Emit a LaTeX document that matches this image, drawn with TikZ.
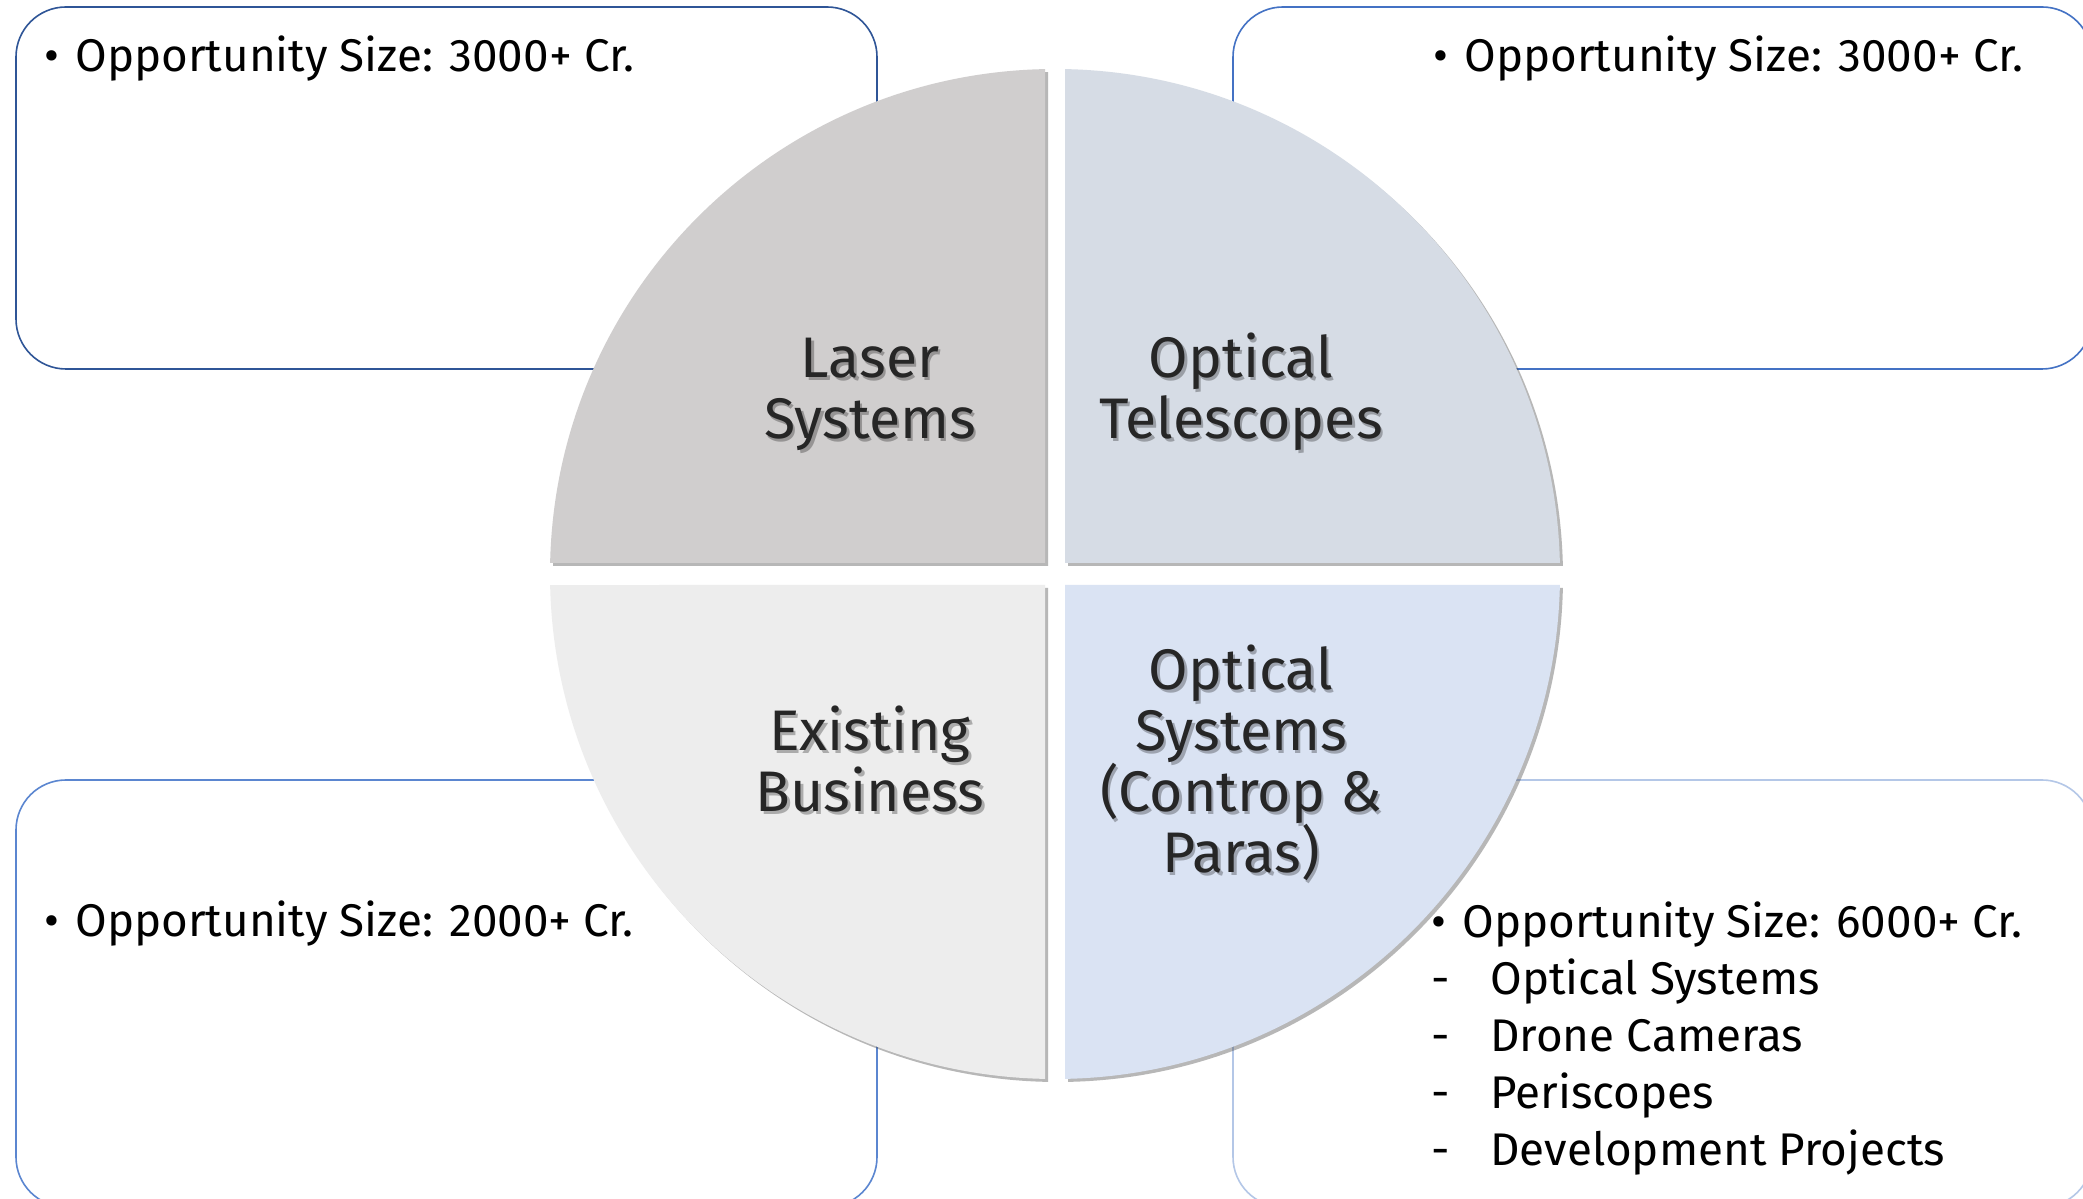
\documentclass[tikz,border=0pt]{standalone}
\usepackage{fontspec}
\setmainfont{Fira Sans}
\usetikzlibrary{shadows}
\definecolor{qTL}{HTML}{D0CECE}
\definecolor{qTR}{HTML}{D6DCE5}
\definecolor{qBL}{HTML}{EDEDED}
\definecolor{qBR}{HTML}{DAE3F3}
\definecolor{bTL}{HTML}{2F5597}
\definecolor{bTR}{HTML}{4472C4}
\definecolor{bBL}{HTML}{5B86D0}
\definecolor{bBR}{HTML}{B4C7E7}
\definecolor{labtxt}{HTML}{262626}
\tikzset{
  infobox/.style={rounded corners=25pt, line width=0.8pt},
  piece/.style={drop shadow={shadow xshift=1.5pt, shadow yshift=-1.5pt, opacity=0.4, fill=black!70}},
  bigtxt/.style={font=\fontsize{28.6}{30.5}\selectfont, align=center, text=labtxt, inner sep=0pt, anchor=base},
  bigshadow/.style={font=\fontsize{28.6}{30.5}\selectfont, align=center, text=black, opacity=0.28, inner sep=0pt, anchor=base},
  bullettxt/.style={font=\fontsize{22.9}{28.6}\selectfont, align=left, inner sep=0pt, anchor=base west},
}
\newcommand{\bul}{\makebox[15.5pt][l]{\textbullet}}
\newcommand{\dsh}{\makebox[29.5pt][l]{-}}
\begin{document}
\begin{tikzpicture}[x=0.5pt,y=0.5pt]
\useasboundingbox (0,0) rectangle (2083,1199);
\clip (0,0) rectangle (2083,1199);
\fill[white] (0,0) rectangle (2083,1199);
% info boxes
\draw[infobox, draw=bTL] (16,1192) rectangle (877,830);
\draw[infobox, draw=bTR] (1233,1192) rectangle (2092,830);
\draw[infobox, draw=bBL] (16,419) rectangle (877,-8);
\draw[infobox, draw=bBR] (1233,419) rectangle (2092,-8);
% box texts
\node[bullettxt] (tltxt) at (44,1127) {\bul Opportunity Size: 3000+ Cr.};
\node[bullettxt] (trtxt) at (1433,1127) {\bul Opportunity Size: 3000+ Cr.};
\node[bullettxt] (bltxt) at (44,262) {\bul Opportunity Size: 2000+ Cr.};
\node[bullettxt] (brtxt) at (1431,33) {\bul Opportunity Size: 6000+ Cr.\\
\dsh Optical Systems\\ \dsh Drone Cameras\\ \dsh Periscopes\\ \dsh Development Projects};
% circle pieces
\fill[piece, qTL] (1045,1129.9) -- (1045,636) -- (550.12,636)
  arc[start angle=178.752, end angle=91.135, radius=252.5pt] -- cycle;
\fill[piece, qTR] (1065,636) -- (1065,1129.9)
  arc[start angle=88.865, end angle=1.248, radius=252.5pt] -- cycle;
\fill[piece, qBL] (1045,614) -- (1045,120.1)
  arc[start angle=268.865, end angle=181.248, radius=252.5pt] -- cycle;
\fill[piece, qBR] (1065,614) -- (1559.88,614)
  arc[start angle=358.752, end angle=271.135, radius=252.5pt] -- cycle;
% labels with text shadow
\node[bigshadow] at (872.5,757.5) {Laser\\Systems};
\node[bigtxt] (laser) at (870,760) {Laser\\Systems};
\node[bigshadow] at (1243.5,757.5) {Optical\\Telescopes};
\node[bigtxt] (tele) at (1241,760) {Optical\\Telescopes};
\node[bigshadow] at (872.5,384.5) {Existing\\Business};
\node[bigtxt] (exist) at (870,387) {Existing\\Business};
\node[bigshadow] at (1243.5,323.5) {Optical\\Systems\\(Controp \&\\Paras)};
\node[bigtxt] (optsys) at (1241,326) {Optical\\Systems\\(Controp \&\\Paras)};
\end{tikzpicture}
\end{document}
